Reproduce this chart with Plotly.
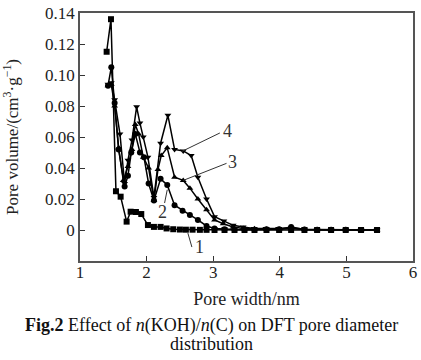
import plotly.graph_objects as go

# Series 1 (squares)
x1 = [1.40, 1.465, 1.54, 1.61, 1.70, 1.76, 1.84, 1.92, 2.02, 2.11, 2.21, 2.30, 2.40, 2.50, 2.59, 2.69, 2.80, 2.90,
      3.02, 3.17, 3.32, 3.47, 3.62, 3.80, 3.99, 4.17, 4.37, 4.56, 4.77, 4.99, 5.22, 5.46]
y1 = [0.115, 0.136, 0.025, 0.0215, 0.0054, 0.0118, 0.0116, 0.0103, 0.0032, 0.002, 0.002, 0.001, 0.0005, 0.0003, 0.0002, 0.0002, 0.0001, 0.0001,
      0.0, 0.0, 0.0, 0.0, 0.0, 0.0, 0.0, 0.0, 0.0, 0.0, 0.0, 0.0, 0.0, 0.0]

# Series 2 (circles)
x2 = [1.42, 1.47, 1.52, 1.58, 1.67, 1.72, 1.77, 1.83, 1.90, 1.96, 2.03, 2.11, 2.21, 2.31, 2.42, 2.54, 2.65, 2.77, 2.90,
      3.02, 3.17, 3.32, 3.47, 3.62, 3.80, 3.99, 4.17, 4.37, 4.56, 4.77, 4.99, 5.22, 5.46]
y2 = [0.093, 0.105, 0.082, 0.052, 0.028, 0.035, 0.050, 0.062, 0.050, 0.047, 0.030, 0.019, 0.033, 0.029, 0.016, 0.0125, 0.0097, 0.0065, 0.0026,
      0.001, 0.0005, 0.0003, 0.0002, 0.0002, 0.0005, 0.0005, 0.002, 0.0003, 0.0002, 0.0001, 0.0001, 0.0, 0.0]

# Series 3 (up triangles)
x3 = [1.42, 1.47, 1.52, 1.58, 1.65, 1.72, 1.78, 1.83, 1.88, 1.95, 2.03, 2.11, 2.17, 2.22, 2.31, 2.42, 2.55, 2.65, 2.77, 2.90,
      3.02, 3.15, 3.30, 3.45, 3.62, 3.80, 3.99, 4.17, 4.37, 4.56, 4.77, 4.99, 5.22, 5.46]
y3 = [0.093, 0.094, 0.080, 0.053, 0.032, 0.041, 0.052, 0.068, 0.062, 0.047, 0.040, 0.019, 0.039, 0.048, 0.053, 0.034, 0.032, 0.027, 0.020, 0.013,
      0.0065, 0.004, 0.002, 0.001, 0.0008, 0.0005, 0.0005, 0.001, 0.0003, 0.0002, 0.0001, 0.0001, 0.0, 0.0]

# Series 4 (down triangles)
x4 = [1.42, 1.47, 1.52, 1.60, 1.67, 1.72, 1.78, 1.85, 1.90, 1.95, 2.02, 2.11, 2.21, 2.32, 2.42, 2.55, 2.67, 2.77, 2.90,
      3.02, 3.16, 3.30, 3.45, 3.61, 3.79, 3.98, 4.17, 4.37, 4.56, 4.77, 4.99, 5.22, 5.46]
y4 = [0.094, 0.095, 0.084, 0.062, 0.030, 0.045, 0.058, 0.0795, 0.069, 0.060, 0.047, 0.021, 0.056, 0.074, 0.052, 0.051, 0.048, 0.034, 0.020,
      0.0086, 0.0058, 0.003, 0.002, 0.001, 0.001, 0.001, 0.0015, 0.0005, 0.0003, 0.0002, 0.0001, 0.0, 0.0]

x_ticks = [1, 2, 3, 4, 5, 6]
y_ticks = [0, 0.02, 0.04, 0.06, 0.08, 0.10, 0.12, 0.14]
y_ticktext = ["0", "0.02", "0.04", "0.06", "0.08", "0.10", "0.12", "0.14"]

series = [
    (x1, y1, "square", 6),
    (x2, y2, "circle", 6),
    (x3, y3, "triangle-up", 6),
    (x4, y4, "triangle-down", 6),
]

labels = ["1", "2", "3", "4"]
label_pos = [(2.80, -0.011), (2.24, 0.0118), (3.29, 0.044), (3.22, 0.064)]
leader = [((2.62, -0.002), (2.68, -0.011)),
          ((2.31, 0.026), (2.27, 0.0174)),
          ((2.55, 0.032), (3.20, 0.043)),
          ((2.52, 0.0505), (3.10, 0.0626))]

SERIF = "Liberation Serif"

fig = go.Figure()
for xs, ys, sym, sz in series:
    fig.add_trace(go.Scatter(x=xs, y=ys, mode="lines+markers",
                             line=dict(color="black", width=1.5),
                             marker=dict(symbol=sym, size=sz, color="black"),
                             showlegend=False))

for (a, b) in leader:
    fig.add_shape(type="line", x0=a[0], y0=a[1], x1=b[0], y1=b[1],
                  line=dict(color="#333", width=1), xref="x", yref="y")
for lab, (lx, ly) in zip(labels, label_pos):
    fig.add_annotation(x=lx, y=ly, text=lab, showarrow=False,
                       font=dict(family=SERIF, size=18, color="#333"))

axis_common = dict(showgrid=False, zeroline=False, showline=True, linecolor="#555", linewidth=1.5,
                   mirror=True, ticks="inside", ticklen=5, tickcolor="#333",
                   ticklabeloverflow="allow",
                   tickfont=dict(family=SERIF, size=17, color="#222"))

fig.update_xaxes(range=[1, 6], tickvals=x_ticks, ticktext=[str(v) for v in x_ticks],
                 ticklabelstandoff=-5,
                 title=dict(text="Pore width/nm", font=dict(family=SERIF, size=18, color="#222"), standoff=11),
                 **axis_common)
fig.update_yaxes(range=[-0.02, 0.14], tickvals=y_ticks, ticktext=y_ticktext,
                 title=dict(text="Pore volume/(cm<sup>3</sup>·g<sup>−1</sup>)",
                            font=dict(family=SERIF, size=17, color="#222"), standoff=23),
                 **axis_common)

fig.add_annotation(x=0.3934, y=-0.262, xref="paper", yref="paper", xanchor="center", yanchor="middle",
                   text="<b>Fig.2</b> Effect of <i>n</i>(KOH)/<i>n</i>(C) on DFT pore diameter",
                   showarrow=False, font=dict(family=SERIF, size=18, color="#111"))
fig.add_annotation(x=0.3934, y=-0.335, xref="paper", yref="paper", xanchor="center", yanchor="middle",
                   text="distribution", showarrow=False,
                   font=dict(family=SERIF, size=18, color="#111"))

fig.update_layout(width=421, height=360, margin=dict(l=80, r=8, t=13, b=99, autoexpand=False),
                  plot_bgcolor="white", paper_bgcolor="white")

fig.write_html("out.html", config={"displayModeBar": False},
               post_script="document.body.style.margin='0px';document.body.style.overflow='hidden';")
